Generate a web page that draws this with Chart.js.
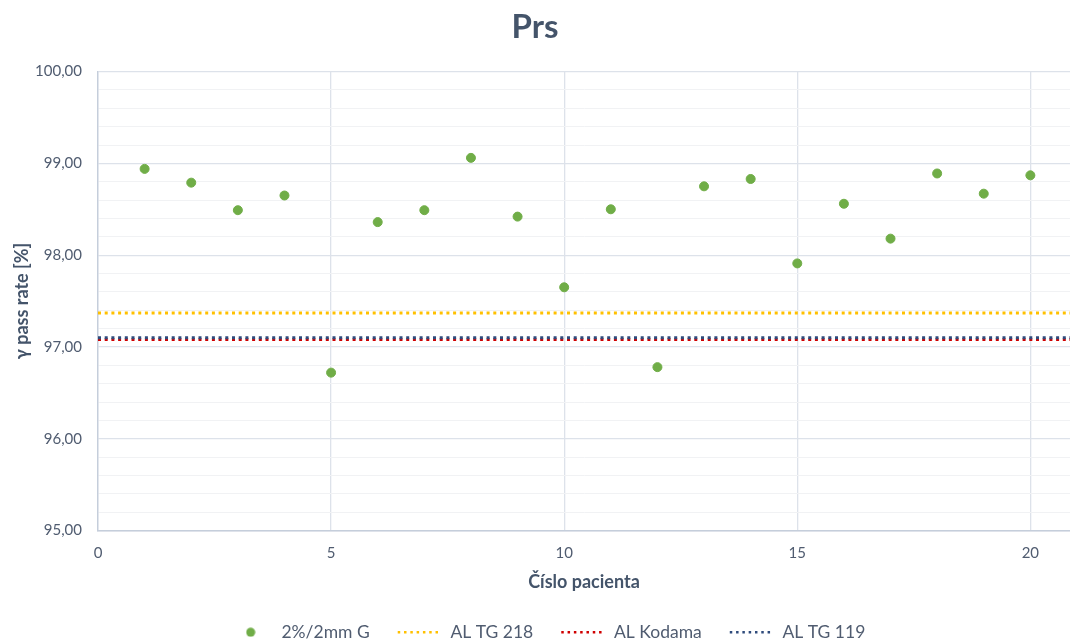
<!DOCTYPE html>
<html>
<head>
<meta charset="utf-8">
<script src="https://cdn.jsdelivr.net/npm/chart.js@4.4.1/dist/chart.umd.min.js"></script>
<style>
  body { margin: 0; background: #fff; }
  #wrap { width: 1070px; height: 642px; }
</style>
</head>
<body>
<div id="wrap"><canvas id="graph" width="1070" height="642"></canvas></div>
<script>
// pacienti a gamma pass rate (2%/2mm G)
var patients = [1, 2, 3, 4, 5, 6, 7, 8, 9, 10, 11, 12, 13, 14, 15, 16, 17, 18, 19, 20];
var passRates = [98.94, 98.79, 98.49, 98.65, 96.72, 98.36, 98.49, 99.06, 98.42, 97.65,
                 98.50, 96.78, 98.75, 98.83, 97.91, 98.56, 98.18, 98.89, 98.67, 98.87];

// akční limity
var limitNames = ['AL TG 218', 'AL Kodama', 'AL TG 119'];
var limitValues = [97.37, 97.08, 97.10];
var limitColors = ['#ffc000', '#d00000', '#2f4b7c'];

var xTicks = [0, 5, 10, 15, 20];
var xMax = 20.85;
var yMin = 95, yMax = 100;

var fontFamily = 'Lato, "Open Sans", sans-serif';
var textColor = '#505c70';

// zelená tečka do legendy
var dotImg = document.createElement('canvas');
dotImg.width = 10; dotImg.height = 10;
(function () {
  var c = dotImg.getContext('2d');
  c.fillStyle = '#70ad47';
  c.beginPath();
  c.arc(5, 5, 4.5, 0, Math.PI * 2);
  c.fill();
})();

// legendu posunout kousek doprava
var legendShift = {
  id: 'legendShift',
  afterLayout: function (chart) {
    if (chart.legend) {
      chart.legend.left += 12;
      chart.legend.right += 12;
    }
  }
};

var drawGraph = function () {
  var ctx = document.getElementById('graph').getContext('2d');

  var points = {
    label: '2%/2mm G',
    data: patients.map(function (p, i) { return { x: p, y: passRates[i] }; }),
    backgroundColor: '#70ad47',
    borderColor: '#70ad47',
    pointRadius: 4.5,
    pointHoverRadius: 5,
    order: 0
  };

  var lines = limitNames.map(function (name, i) {
    return {
      label: name,
      data: [{ x: 0, y: limitValues[i] }, { x: xMax, y: limitValues[i] }],
      showLine: true,
      borderColor: limitColors[i],
      backgroundColor: limitColors[i],
      borderWidth: 3,
      borderDash: [3, 3.7],
      pointRadius: 0,
      pointStyle: 'line',
      order: i === 2 ? 1 : (i === 1 ? 2 : 3)
    };
  });

  var config = {
    type: 'scatter',
    data: { datasets: [points].concat(lines) },
    plugins: [legendShift],
    options: {
      responsive: false,
      animation: false,
      layout: { autoPadding: false, padding: { left: 0, right: 0, top: 0, bottom: -9 } },
      plugins: {
        title: {
          display: true,
          text: 'Prs',
          color: '#44546a',
          font: { family: fontFamily, size: 33, weight: 'bold' },
          padding: { top: 8, bottom: 24 }
        },
        legend: {
          position: 'bottom',
          labels: {
            usePointStyle: true,
            pointStyleWidth: 44,
            color: textColor,
            font: { family: fontFamily, size: 17.5 },
            padding: 28,
            sort: function (a, b) { return a.datasetIndex - b.datasetIndex; },
            generateLabels: function (chart) {
              var items = Chart.defaults.plugins.legend.labels.generateLabels(chart);
              items.forEach(function (item) {
                var ds = chart.data.datasets[item.datasetIndex];
                if (item.datasetIndex === 0) {
                  item.pointStyle = dotImg;
                } else {
                  item.pointStyle = 'line';
                  item.lineDash = [2.5, 3.8];
                  item.lineWidth = 2.5;
                  item.strokeStyle = ds.borderColor;
                }
              });
              return items;
            }
          }
        },
        tooltip: { enabled: false }
      },
      scales: {
        x: {
          type: 'linear',
          min: 0,
          max: xMax,
          afterBuildTicks: function (axis) {
            axis.ticks = xTicks.map(function (v) { return { value: v }; });
          },
          afterFit: function (scale) {
            scale.height = 65;
            scale.paddingRight = 0;
            scale.paddingLeft = 0;
          },
          ticks: {
            color: textColor,
            font: { family: fontFamily, size: 15 },
            padding: 14,
            maxRotation: 0
          },
          grid: {
            drawTicks: false,
            color: function (c) { return c.tick && c.tick.value === 0 ? 'rgba(0,0,0,0)' : '#dde2ea'; },
            lineWidth: 1.3
          },
          border: { color: '#c5cedb', width: 1.5 },
          title: {
            display: true,
            text: 'Číslo pacienta',
            color: '#44546a',
            font: { family: fontFamily, size: 18, weight: 'bold' },
            padding: { top: 0, bottom: 3 }
          }
        },
        y: {
          min: yMin,
          max: yMax,
          afterFit: function (scale) { scale.width = 98; },
          ticks: {
            stepSize: 0.2,
            color: textColor,
            font: { family: fontFamily, size: 15 },
            padding: 16,
            autoSkip: false,
            callback: function (v) {
              if (Math.abs(v - Math.round(v)) > 1e-6) return '';
              return Math.round(v).toFixed(2).replace('.', ',');
            }
          },
          grid: {
            drawTicks: false,
            color: function (c) {
              var v = c.tick ? c.tick.value : 0;
              return Math.abs(v - Math.round(v)) < 1e-6 ? '#dde2ea' : '#f1f2f4';
            },
            lineWidth: function (c) {
              var v = c.tick ? c.tick.value : 0;
              return Math.abs(v - Math.round(v)) < 1e-6 ? 1.3 : 1;
            }
          },
          border: { color: '#c5cedb', width: 1.5 },
          title: {
            display: true,
            text: 'γ pass rate [%]',
            color: '#44546a',
            font: { family: fontFamily, size: 18, weight: 'bold' },
            padding: { top: 11, bottom: 0 }
          }
        }
      }
    }
  };
  var myChart = new Chart(ctx, config);
};

window.onload = function () {
  drawGraph();
};
</script>
</body>
</html>
